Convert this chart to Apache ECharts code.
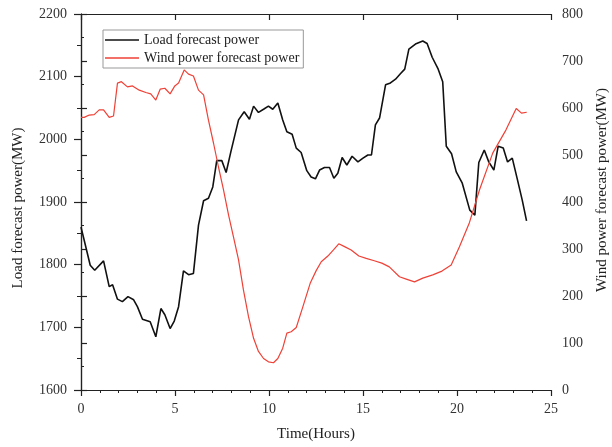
<!DOCTYPE html>
<html>
<head>
<meta charset="utf-8">
<script src="https://cdn.jsdelivr.net/npm/echarts@6/dist/echarts.min.js"></script>
<style>
  html, body { margin: 0; padding: 0; background: #fff; }
  #container { width: 612px; height: 447px; }
</style>
</head>
<body>
<div id="container"></div>
<script>
var dom = document.getElementById('container');
var myChart = echarts.init(dom);

// x axis ticks
var xTicks = [0, 5, 10, 15, 20, 25];

// load forecast (left axis, MW)
var loadHours = [0, 0.17, 0.49, 0.73, 1.2, 1.5, 1.68, 1.94, 2.2, 2.5, 2.8, 3.0, 3.27, 3.68, 3.98, 4.25, 4.46, 4.74, 4.96,
    5.19, 5.45, 5.72, 5.98, 6.25, 6.52, 6.78, 7.01, 7.22, 7.49, 7.72, 7.97, 8.38, 8.68, 8.96, 9.18, 9.44, 9.71, 9.97,
    10.2, 10.47, 10.73, 10.95, 11.23, 11.45, 11.71, 12.01, 12.24, 12.47, 12.69, 12.95, 13.22, 13.45, 13.66, 13.89,
    14.14, 14.42, 14.73, 15.0, 15.26, 15.45, 15.66, 15.88, 16.2, 16.46, 16.73, 17.0, 17.22, 17.44, 17.79, 18.18,
    18.41, 18.68, 19.0, 19.24, 19.43, 19.71, 19.96, 20.28, 20.68, 20.95, 21.16, 21.45, 21.69, 21.96, 22.19, 22.46,
    22.69, 22.94, 23.22, 23.47, 23.7];
var loadMW = [1860, 1839, 1799, 1791, 1806, 1765, 1768, 1745, 1741, 1749, 1744, 1733, 1713, 1709, 1685, 1730, 1720, 1698, 1710,
    1733, 1790, 1784, 1786, 1863, 1902, 1906, 1924, 1966, 1966, 1947, 1980, 2031, 2044, 2032, 2053, 2043, 2048, 2053,
    2048, 2058, 2031, 2012, 2008, 1986, 1979, 1950, 1940, 1937, 1951, 1955, 1955, 1938, 1946, 1971,
    1959, 1973, 1964, 1970, 1975, 1975, 2023, 2034, 2087, 2090, 2096, 2105, 2112, 2144, 2152, 2157,
    2153, 2131, 2112, 2092, 1989, 1977, 1948, 1930, 1887, 1879, 1963, 1983, 1964, 1951, 1989, 1986,
    1964, 1970, 1935, 1903, 1870];

// wind power forecast (right axis, MW)
var windHours = [0, 0.17, 0.44, 0.7, 0.97, 1.2, 1.5, 1.73, 1.94, 2.15, 2.47, 2.74, 3.1, 3.45, 3.71, 3.98, 4.21, 4.46, 4.74, 4.99,
    5.19, 5.49, 5.72, 5.98, 6.25, 6.52, 6.78, 7.05, 7.31, 7.58, 7.85, 8.11, 8.38, 8.64, 8.91, 9.18, 9.44, 9.71, 9.97,
    10.24, 10.47, 10.73, 10.95, 11.18, 11.45, 11.8, 12.19, 12.51, 12.78, 13.13, 13.43, 13.71, 14.02, 14.37, 14.78,
    15.17, 15.6, 16.0, 16.4, 16.94, 17.3, 17.74, 18.18, 18.71, 19.2, 19.69, 20.13, 20.66, 21.2, 21.9, 22.6,
    23.15, 23.43, 23.71];
var windMW = [580, 580, 585, 586, 596, 596, 580, 583, 653, 656, 645, 647, 638, 633, 630, 617, 640, 642, 630, 647,
    653, 681, 672, 668, 638, 628, 574, 525, 475, 426, 372, 326, 277, 213, 156, 110, 82, 67, 60,
    58, 67, 89, 121, 124, 133, 177, 227, 254, 273, 285, 298, 311, 305, 298, 285,
    280, 275, 270, 262, 241, 236, 230, 238, 245, 253, 266, 305, 356, 426, 504, 553,
    599, 589, 591];

function pairs(xs, ys) {
    return xs.map(function (x, i) { return [x, ys[i]]; });
}

var serif = 'Liberation Serif';
var axisColor = '#222';

option = {
    backgroundColor: '#fff',
    animation: false,
    textStyle: { fontFamily: serif },
    grid: {
        left: 81,
        right: 61,
        top: 14,
        bottom: 56
    },
    legend: {
        orient: 'vertical',
        left: 103,
        top: 30,
        padding: [3, 4, 3, 2],
        itemGap: 4,
        itemWidth: 34,
        itemHeight: 1.5,
        icon: 'rect',
        borderColor: '#999',
        borderWidth: 1,
        textStyle: {
            fontFamily: serif,
            fontSize: 14,
            color: '#222',
            lineHeight: 14
        },
        data: ['Load forecast power', 'Wind power forecast power']
    },
    xAxis: [{
        type: 'value',
        position: 'bottom',
        min: xTicks[0],
        max: xTicks[xTicks.length - 1],
        interval: 5,
        name: 'Time(Hours)',
        nameLocation: 'middle',
        nameGap: 37,
        nameTextStyle: { fontFamily: serif, fontSize: 15, color: '#222' },
        axisLine: { lineStyle: { color: axisColor, width: 1.2 } },
        axisTick: { length: 6, lineStyle: { color: axisColor, width: 1.2 } },
        minorTick: { show: true, splitNumber: 5, length: 3, lineStyle: { color: axisColor, width: 1 } },
        axisLabel: { fontFamily: serif, fontSize: 14, color: '#333', margin: 12 },
        splitLine: { show: false }
    }, {
        type: 'value',
        position: 'top',
        min: xTicks[0],
        max: xTicks[xTicks.length - 1],
        interval: 5,
        axisLine: { lineStyle: { color: axisColor, width: 1.2 } },
        axisTick: { inside: true, length: 6, lineStyle: { color: axisColor, width: 1.2 } },
        axisLabel: { show: false },
        splitLine: { show: false }
    }],
    yAxis: [{
        type: 'value',
        position: 'left',
        min: 1600,
        max: 2200,
        interval: 100,
        axisLine: { show: true, lineStyle: { color: axisColor, width: 1.2 } },
        axisTick: { show: true, length: 7, lineStyle: { color: axisColor, width: 1.2 } },
        minorTick: { show: true, splitNumber: 2, length: 4, lineStyle: { color: axisColor, width: 1 } },
        axisLabel: {
            fontFamily: serif, fontSize: 14, color: '#333', margin: 14,
            formatter: function (v) { return String(v); }
        },
        splitLine: { show: false }
    }, {
        type: 'value',
        position: 'right',
        min: 0,
        max: 800,
        interval: 100,
        axisLine: { show: true, lineStyle: { color: axisColor, width: 1.2 } },
        axisTick: { show: true, length: 6, lineStyle: { color: axisColor, width: 1.2 } },
        minorTick: { show: true, splitNumber: 2, length: 3, lineStyle: { color: axisColor, width: 1 } },
        axisLabel: {
            fontFamily: serif, fontSize: 14, color: '#333', margin: 11,
            formatter: function (v) { return String(v); }
        },
        splitLine: { show: false }
    }],
    graphic: [{
        type: 'text',
        x: 18,
        y: 208,
        rotation: Math.PI / 2,
        style: {
            text: 'Load forecast power(MW)',
            font: '15px "Liberation Serif"',
            fill: '#222',
            align: 'center',
            verticalAlign: 'middle'
        }
    }, {
        type: 'text',
        x: 602,
        y: 190,
        rotation: Math.PI / 2,
        style: {
            text: 'Wind power forecast power(MW)',
            font: '15px "Liberation Serif"',
            fill: '#222',
            align: 'center',
            verticalAlign: 'middle'
        }
    }],
    series: [{
        name: 'Load forecast power',
        type: 'line',
        xAxisIndex: 0,
        yAxisIndex: 0,
        symbol: 'none',
        color: '#111',
        lineStyle: { width: 1.6, color: '#111' },
        data: pairs(loadHours, loadMW)
    }, {
        name: 'Wind power forecast power',
        type: 'line',
        xAxisIndex: 0,
        yAxisIndex: 1,
        symbol: 'none',
        color: '#ef4136',
        lineStyle: { width: 1.2, color: '#ef4136' },
        data: pairs(windHours, windMW)
    }]
};
myChart.setOption(option);

window.addEventListener('resize', function () {
    myChart.resize();
});
</script>
</body>
</html>
